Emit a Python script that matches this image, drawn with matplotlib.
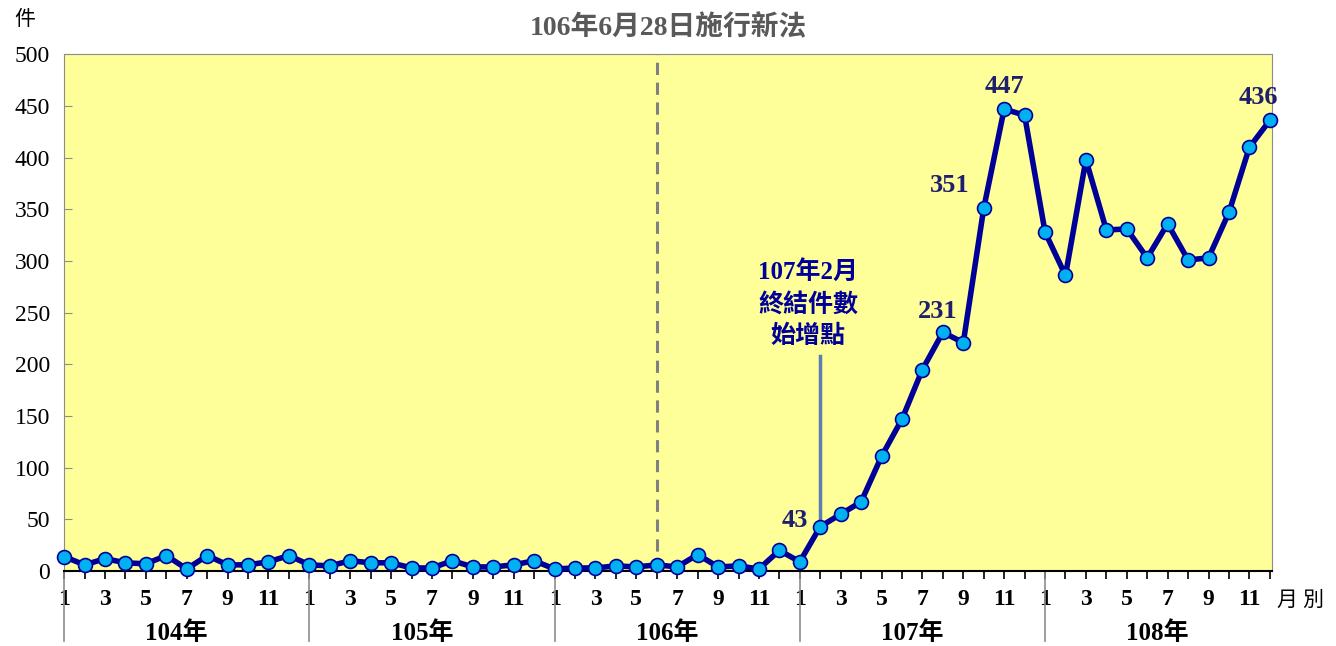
import matplotlib.pyplot as plt
import numpy as np
from matplotlib.ticker import MultipleLocator

# monthly counts, 104/1 .. 108/12
years = ["104年", "105年", "106年", "107年", "108年"]
counts_104 = [14, 6, 12, 8, 7, 15, 2, 15, 6, 6, 9, 15]
counts_105 = [6, 5, 10, 8, 8, 3, 3, 10, 4, 4, 6, 10]
counts_106 = [2, 3, 3, 5, 4, 6, 4, 16, 4, 5, 2, 20]
counts_107 = [9, 43, 55, 67, 111, 147, 195, 231, 221, 351, 447, 441]
counts_108 = [328, 286, 398, 330, 331, 303, 336, 301, 303, 347, 410, 436]
counts = counts_104 + counts_105 + counts_106 + counts_107 + counts_108
month_labels = ["1", "", "3", "", "5", "", "7", "", "9", "", "11", ""] * 5

# labelled points: (index, text, dx, dy, ha)
labelled = [(37, "43", -9, -4, "right"), (43, "231", -4, 7, "center"),
            (45, "351", -10, 8, "right"), (46, "447", 0, 8, "center"),
            (59, "436", 6, 8, "right")]

serif = ["Liberation Serif", "Noto Sans CJK TC"]
navy = "#000099"

fig = plt.figure(figsize=(13.36, 6.46), dpi=100)
ax = fig.add_axes([0.048, 0.116, 0.904, 0.800])
ax.set_facecolor("#FFFF99")

x = np.arange(len(counts))
ax.plot(x, counts, color=navy, lw=4, marker="o", ms=10,
        mfc="#00B0F0", mec=navy, mew=1.2, zorder=3, clip_on=False)

ax.set_xlim(0, 59.1)
ax.set_ylim(0, 500)

# policy date
ax.axvline(29, color="#808080", ls=(0, (4, 2.5)), lw=2.2, zorder=2)
ax.text(0.5, 1.05, "106年6月28日施行新法", transform=ax.transAxes, ha="center",
        va="center", fontsize=20, fontweight="bold", color="#595959", family=serif)

# annotation for 107/2
ax.plot([37, 37], [43, 208], color="#5B7DB1", lw=2.5, zorder=2)
ax.text(36.4, 258, "107年2月\n終結件數\n始增點", ha="center", va="center",
        fontsize=18, fontweight="bold", color=navy, family=serif, linespacing=1.45)

for i, txt, dx, dy, ha in labelled:
    ax.annotate(txt, (i, counts[i]), xytext=(dx, dy), textcoords="offset points",
                ha=ha, va="bottom", fontsize=19, fontweight="bold",
                color="#1F1F6E", family=serif)

# axes styling
for side in ["left", "right", "top"]:
    ax.spines[side].set_color("#8C8C8C")
ax.spines["bottom"].set_color("black")
ax.spines["bottom"].set_linewidth(1.5)

ax.yaxis.set_major_locator(MultipleLocator(50))
ax.tick_params(axis="y", direction="in", length=6, color="#8C8C8C",
               labelsize=17, pad=10)
for lbl in ax.get_yticklabels():
    lbl.set_family(serif)

ax.set_xticks(x)
ax.set_xticklabels(month_labels, family=serif, fontsize=17, fontweight="bold")
ax.tick_params(axis="x", direction="out", length=6, width=1.2, pad=7)

# year separators and labels
trans = ax.get_xaxis_transform()
for k, yr in enumerate(years):
    ax.plot([12 * k, 12 * k], [0, -0.135], transform=trans, color="#8C8C8C",
            lw=1.2, clip_on=False)
    ax.text(12 * k + 5.5, -0.12, yr, transform=trans, ha="center", va="center",
            fontsize=18, fontweight="bold", family=serif)

ax.text(1.024, -0.058, "月 別", transform=ax.transAxes, ha="center", va="center",
        fontsize=15, family=serif)
ax.text(-0.033, 1.066, "件", transform=ax.transAxes, ha="center", va="center",
        fontsize=15, family=serif)

fig.savefig("out.png", dpi=100)
